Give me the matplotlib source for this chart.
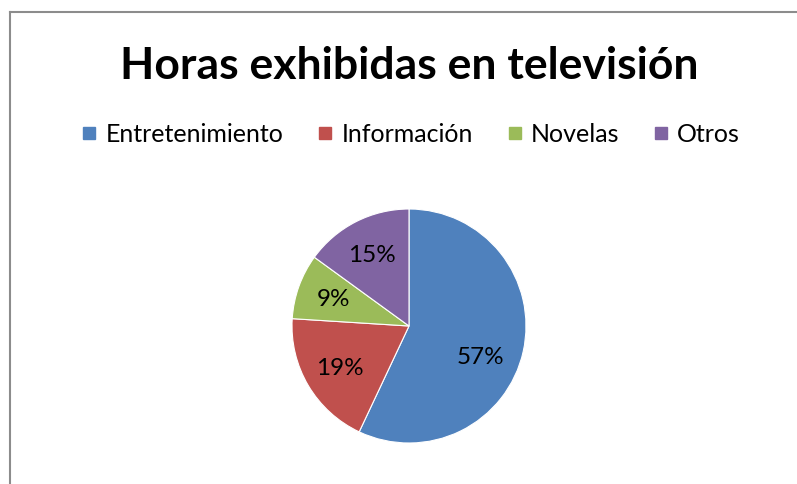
import matplotlib.pyplot as plt
from matplotlib.lines import Line2D

categories = ['Entretenimiento', 'Información', 'Novelas', 'Otros']
values = [57, 19, 9, 15]
colors = ['#4F81BD', '#C0504D', '#9BBB59', '#8064A2']
title = 'Horas exhibidas en televisión'

plt.rcParams['font.family'] = ['Lato', 'DejaVu Sans']

W, H = 797, 485
fig = plt.figure(figsize=(W / 100, H / 100), dpi=100)

# chart frame (only left and top visible in the crop)
fig.add_artist(Line2D([10 / W, 10 / W], [0, 1 - 13 / H], color='#8c8c8c', lw=1.5))
fig.add_artist(Line2D([10 / W, 1], [1 - 13 / H, 1 - 13 / H], color='#8c8c8c', lw=1.5))

fig.text(409 / W, 1 - 79 / H, title, ha='center', va='baseline',
         fontsize=32, fontweight='bold')

# pie, centre (409, 327), radius 117 px
cx, cy, r = 409, 327, 117
ax = fig.add_axes([(cx - r) / W, (H - cy - r) / H, 2 * r / W, 2 * r / H])
wedges, texts, autotexts = ax.pie(
    values, colors=colors, startangle=90, counterclock=False,
    autopct='%1.0f%%', pctdistance=0.69,
    wedgeprops=dict(edgecolor='white', linewidth=0.8),
    textprops=dict(fontsize=17.5, color='black'))
# excel nudged the big label down a little
autotexts[0].set_position((0.61, -0.26))
ax.set_xlim(-1, 1)
ax.set_ylim(-1, 1)
ax.set_aspect('equal')
ax.axis('off')

handles = [Line2D([], [], marker='s', linestyle='none', markersize=9,
                  markerfacecolor=c, markeredgecolor=c) for c in colors]
fig.legend(handles, categories, loc='center', bbox_to_anchor=(411 / W, 1 - 135 / H),
           ncol=4, frameon=False, fontsize=18, handlelength=0.6,
           handletextpad=0.35, columnspacing=1.37)

fig.savefig('out.png', dpi=100, facecolor='white')
